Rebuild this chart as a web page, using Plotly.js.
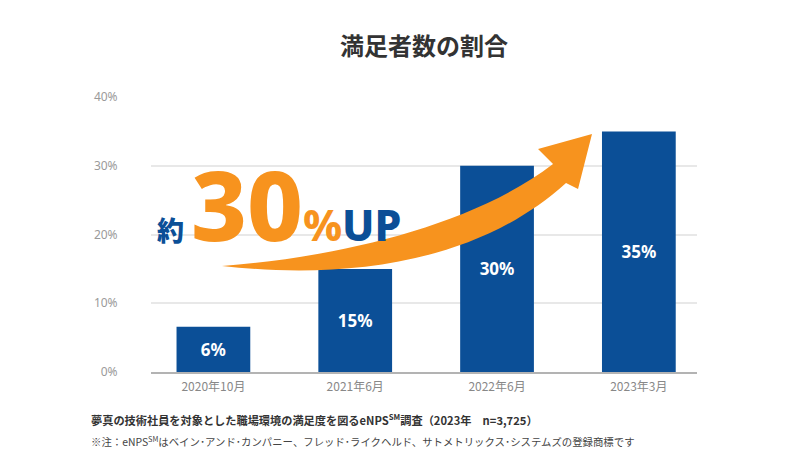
<!DOCTYPE html>
<html>
<head>
<meta charset="utf-8">
<script src="https://cdn.plot.ly/plotly-3.0.1.min.js"></script>
<style>
html,body{margin:0;padding:0;background:#fff;}
#chart{width:808px;height:470px;}
</style>
</head>
<body>
<div id="chart"></div>
<script>
const categories = ['2020年10月', '2021年6月', '2022年6月', '2023年3月'];
const values = [6.6, 15, 30, 35];
const valueLabels = ['6%', '15%', '30%', '35%'];
const yTickValues = [0, 10, 20, 30, 40];
const yTickLabels = ['0%', '10%', '20%', '30%', '40%'];

const JP = '"Noto Sans CJK JP", "Noto Sans", sans-serif';
const BLUE = '#0b4f97';
const ORANGE = '#f7931e';

// plot area in pixels (for decorative arrow)
const L = 151, R = 697, T = 97, B = 372;
function P(px, py) {
  return ((px - L) / (R - L)).toFixed(4) + ',' + ((B - py) / (B - T)).toFixed(4);
}
const arrowPath =
  'M' + P(222, 266) +
  ' C' + P(330, 278) + ' ' + P(470, 270) + ' ' + P(566, 183) +
  ' L' + P(578, 189) +
  ' L' + P(592, 134) +
  ' L' + P(538, 149) +
  ' L' + P(553, 164) +
  ' C' + P(470, 228) + ' ' + P(330, 258) + ' ' + P(222, 266) + ' Z';

const trace = {
  type: 'bar',
  x: categories,
  y: values,
  text: valueLabels,
  textposition: 'inside',
  insidetextanchor: 'middle',
  textangle: 0,
  textfont: {family: 'Noto Sans, sans-serif', size: 17, color: '#ffffff', weight: 700},
  marker: {color: BLUE},
  hoverinfo: 'skip',
  cliponaxis: false
};

const layout = {
  width: 808, height: 470,
  margin: {l: L, r: 808 - R, t: T, b: 470 - B},
  paper_bgcolor: '#ffffff',
  plot_bgcolor: '#ffffff',
  showlegend: false,
  bargap: 0.48,
  title: {
    text: '満足者数の割合',
    font: {family: JP, size: 24, color: '#333333', weight: 700},
    x: 0.5, xanchor: 'center', xref: 'paper',
    y: 1 - 47 / 470, yanchor: 'middle', yref: 'container'
  },
  xaxis: {
    type: 'category',
    range: [-0.44, 3.41],
    showline: true, linecolor: '#b3b3b3', linewidth: 2,
    showgrid: false, zeroline: false,
    ticks: 'outside', ticklen: 3, tickcolor: 'rgba(0,0,0,0)',
    tickfont: {family: JP, size: 12, color: '#888888'},
    fixedrange: true
  },
  yaxis: {
    range: [0, 40],
    tickvals: yTickValues,
    ticktext: yTickLabels,
    showgrid: true, gridcolor: '#e8e8e8', gridwidth: 2,
    zeroline: false, showline: false,
    ticks: 'outside', ticklen: 30, tickcolor: 'rgba(0,0,0,0)',
    tickfont: {family: 'Noto Sans, sans-serif', size: 12, color: '#9a9a9a'},
    fixedrange: true
  },
  shapes: [{
    type: 'path', xref: 'paper', yref: 'paper',
    path: arrowPath,
    fillcolor: ORANGE, line: {width: 0},
    layer: 'above'
  }],
  annotations: [
    {
      xref: 'paper', yref: 'paper',
      x: (155 - L) / (R - L), y: (B - 271) / (B - T),
      xanchor: 'left', yanchor: 'bottom',
      showarrow: false,
      text: '<span style="color:' + BLUE + ';font-size:27px">約 </span>' +
            '<span style="color:' + ORANGE + ';font-size:97px">30</span>' +
            '<span style="color:' + ORANGE + ';font-size:42px">%</span>' +
            '<span style="color:' + BLUE + ';font-size:43px">UP</span>',
      font: {family: '"Noto Sans", "Noto Sans CJK JP", sans-serif', size: 40, color: BLUE, weight: 800}
    },
    {
      xref: 'paper', yref: 'paper',
      x: (89 - L) / (R - L), y: (B - 419) / (B - T),
      xanchor: 'left', yanchor: 'middle', showarrow: false,
      text: '夢真の技術社員を対象とした職場環境の満足度を図るeNPS<sup>SM</sup>調査（2023年　n=3,725）',
      font: {family: JP, size: 11.2, color: '#333333', weight: 700}
    },
    {
      xref: 'paper', yref: 'paper',
      x: (89 - L) / (R - L), y: (B - 442) / (B - T),
      xanchor: 'left', yanchor: 'middle', showarrow: false,
      text: '※注：eNPS<sup>SM</sup>はベイン･アンド･カンパニー、フレッド･ライクヘルド、サトメトリックス･システムズの登録商標です',
      font: {family: JP, size: 10.4, color: '#444444'}
    }
  ]
};

Plotly.newPlot('chart', [trace], layout, {displayModeBar: false, staticPlot: true});
</script>
</body>
</html>
